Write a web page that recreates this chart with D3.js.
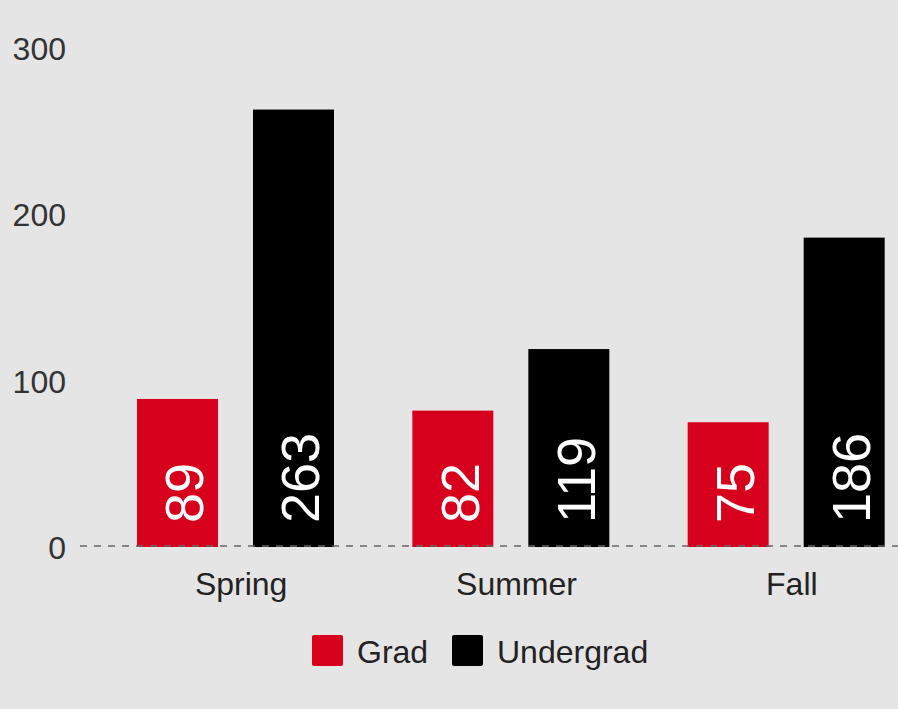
<!DOCTYPE html>
<html>
<head>
<meta charset="utf-8">
<script src="https://cdn.jsdelivr.net/npm/d3@7"></script>
<style>
  html, body { margin: 0; padding: 0; background: #e5e5e5; overflow: hidden; }
  svg { display: block; font-family: "Liberation Sans", Arial, sans-serif; }
</style>
</head>
<body>
<svg id="chart" width="898" height="709"></svg>
<script>
const categories = ["Spring", "Summer", "Fall"];
const seriesNames = ["Grad", "Undergrad"];
const gradValues = [89, 82, 75];
const undergradValues = [263, 119, 186];
const yTicks = [0, 100, 200, 300];
const colors = ["#d7001d", "#000000"];

const rows = categories.map((c, i) => ({ cat: c, values: [gradValues[i], undergradValues[i]] }));

const svg = d3.select("#chart");
svg.append("rect").attr("width", 898).attr("height", 709).attr("fill", "#e5e5e5");

const x0 = d3.scaleBand().domain(categories).range([97.5, 923.5]).padding(0);
const x1 = d3.scaleBand().domain(seriesNames).range([39.5, 236.5]).paddingInner(0.3017).paddingOuter(0);
const y = d3.scaleLinear().domain([0, 300]).range([547, 48]);
const color = d3.scaleOrdinal().domain(seriesNames).range(colors);

// y axis (labels only)
const yAxis = d3.axisLeft(y).tickValues(yTicks).tickSize(0).tickPadding(0);
const yg = svg.append("g").attr("transform", "translate(66,0)").call(yAxis);
yg.select(".domain").remove();
yg.selectAll("text").attr("font-size", 32).attr("fill", "#333").attr("dy", "0.36em")
  .attr("font-family", "Liberation Sans, Arial, sans-serif");

// bars
const groups = svg.append("g").selectAll("g").data(rows).join("g")
  .attr("transform", d => `translate(${x0(d.cat)},0)`);

groups.selectAll("rect")
  .data(d => d.values.map((v, i) => ({ key: seriesNames[i], value: v })))
  .join("rect")
  .attr("x", d => x1(d.key))
  .attr("y", d => y(d.value))
  .attr("width", x1.bandwidth())
  .attr("height", d => y(0) - y(d.value))
  .attr("fill", d => color(d.key));

groups.selectAll("text.val")
  .data(d => d.values.map((v, i) => ({ key: seriesNames[i], value: v })))
  .join("text")
  .attr("class", "val")
  .attr("transform", d => `translate(${x1(d.key) + x1.bandwidth() / 2},${y(0) - 24}) rotate(-90)`)
  .attr("dy", "0.48em")
  .attr("font-size", 54)
  .attr("fill", "#ffffff")
  .attr("text-anchor", "start")
  .text(d => d.value);

// dashed zero line
svg.append("line")
  .attr("x1", 80).attr("x2", 898)
  .attr("y1", y(0) - 1).attr("y2", y(0) - 1)
  .attr("stroke", "#666").attr("stroke-width", 1.5)
  .attr("stroke-dasharray", "7,7");

// x axis labels
const xAxis = d3.axisBottom(x0).tickSize(0).tickPadding(0);
const xg = svg.append("g").attr("transform", `translate(6,${y(0) + 36})`).call(xAxis);
xg.select(".domain").remove();
xg.selectAll("text").attr("font-size", 32).attr("fill", "#222").attr("dy", "0.36em")
  .attr("font-family", "Liberation Sans, Arial, sans-serif");

// legend
const legendItems = [
  { name: seriesNames[0], x: 312 },
  { name: seriesNames[1], x: 452 }
];
const lg = svg.append("g").attr("transform", "translate(0,635)");
const li = lg.selectAll("g").data(legendItems).join("g")
  .attr("transform", d => `translate(${d.x},0)`);
li.append("rect").attr("width", 31).attr("height", 31).attr("rx", 2)
  .attr("fill", d => color(d.name));
li.append("text").attr("x", 45).attr("y", 16).attr("dy", "0.36em")
  .attr("font-size", 32).attr("fill", "#222").text(d => d.name);
</script>
</body>
</html>
